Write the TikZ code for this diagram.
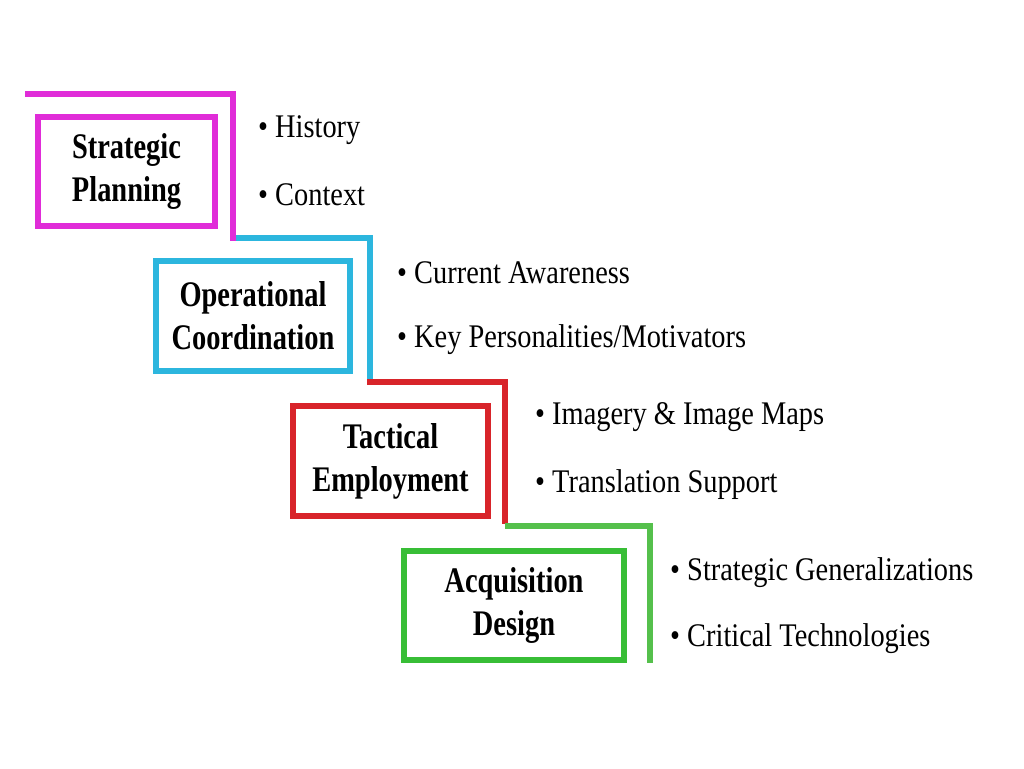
\documentclass[tikz,border=0pt]{standalone}
\usepackage{fontspec}
\setmainfont{Liberation Serif}
\newfontfamily\boxfont{Liberation Serif}[FakeStretch=0.79]
\newfontfamily\itemfont{Liberation Serif}[FakeStretch=0.86]
\usepackage{tikz}
\definecolor{stratcol}{HTML}{E02CD8}
\definecolor{opercol}{HTML}{2CB6DE}
\definecolor{tactcol}{HTML}{D8242A}
\definecolor{acqcol}{HTML}{38BE36}
\definecolor{acqline}{HTML}{55C04C}

\begin{document}
\begin{tikzpicture}[x=1pt, y=-1pt,
	stage/.style={rectangle, draw, line width=6pt, align=center, inner sep=0pt,
		font=\boxfont\bfseries\fontsize{36}{43}\selectfont},
	stair/.style={line width=6pt, line cap=butt, line join=miter},
	item/.style={anchor=west, inner sep=0pt, font=\itemfont\fontsize{33}{36}\selectfont}]
	\useasboundingbox[fill=white] (0,0) rectangle (1024,768);

	% stair lines
	\coordinate (m1) at (25,94);   \coordinate (m2) at (233,94);  \coordinate (m3) at (233,241);
	\coordinate (c1) at (236,238); \coordinate (c2) at (370,238); \coordinate (c3) at (370,381);
	\coordinate (r1) at (367,382); \coordinate (r2) at (505,382); \coordinate (r3) at (505,524);
	\coordinate (g1) at (505,526); \coordinate (g2) at (650,526); \coordinate (g3) at (650,663);
	\draw[stair, stratcol] (m1) -- (m2) -- (m3);
	\draw[stair, opercol] (c1) -- (c2) -- (c3);
	\draw[stair, tactcol] (r1) -- (r2) -- (r3);
	\draw[stair, acqline] (g1) -- (g2) -- (g3);

	% stage boxes
	\node[stage, draw=stratcol, minimum width=177pt, minimum height=109pt] at (126.5,171.5) (sp) {Strategic\\Planning};
	\node[stage, draw=opercol, minimum width=194pt, minimum height=110pt] at (253,316) (oc) {Operational\\Coordination};
	\node[stage, draw=tactcol, minimum width=195pt, minimum height=110pt] at (390.5,461) (te) {Tactical\\Employment};
	\node[stage, draw=acqcol, minimum width=220pt, minimum height=109pt] at (514,605.5) (ad) {Acquisition\\Design};

	% bullet items
	\node[item] at (258,130) (sp1) {• History};
	\node[item] at (258,195) (sp2) {• Context};
	\node[item] at (397,273) (oc1) {• Current Awareness};
	\node[item] at (397,340) (oc2) {• Key Personalities/Motivators};
	\node[item] at (535,417) (te1) {• Imagery \& Image Maps};
	\node[item] at (535,485) (te2) {• Translation Support};
	\node[item] at (670,573) (ad1) {• Strategic Generalizations};
	\node[item] at (670,639) (ad2) {• Critical Technologies};
\end{tikzpicture}
\end{document}
